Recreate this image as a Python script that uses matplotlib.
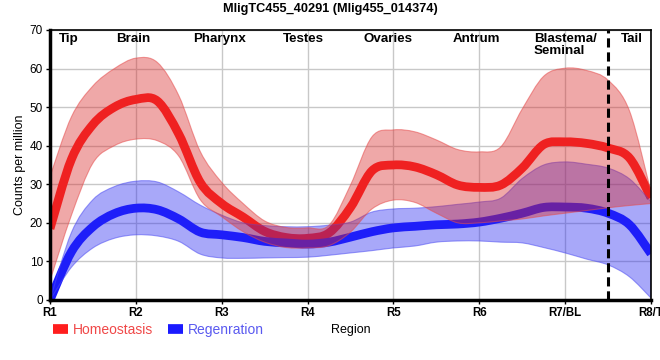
import matplotlib
matplotlib.use("Agg")
import matplotlib.pyplot as plt
from matplotlib.lines import Line2D
from matplotlib.path import Path
from matplotlib.patches import PathPatch
import numpy as np

plt.rcParams['font.family'] = ['Liberation Sans', 'DejaVu Sans']

# ---- data (positions in region units: R1=0 ... R8/T=7, sampled every 0.25) ----
regions = ["R1", "R2", "R3", "R4", "R5", "R6", "R7/BL", "R8/T"]
pos = [i * 0.25 for i in range(29)]

homeo_mid = [18.5, 36.5, 45.5, 50, 52, 51.6, 43, 30.5, 25, 21.5, 17.8, 16.2, 16, 17.4, 24,
             33.5, 35, 34.5, 32.5, 29.8, 29.2, 29.8, 34.2, 40.3, 41, 40.6, 39.4, 36.8, 26.5]
homeo_hi = [32, 47.5, 55.5, 60, 62.7, 61.6, 53, 38.5, 30.5, 25, 20.5, 18.8, 18.7, 19.4, 29.8,
            42.3, 44.1, 43.6, 41.5, 39, 38.4, 39.7, 49.5, 58, 60.1, 59.5, 57, 49, 28]
homeo_lo = [5, 22, 35.5, 40, 41.7, 41.3, 37.3, 26, 21.6, 17.7, 15, 13.6, 13.5, 14.1, 17.6,
            23.6, 25.9, 25.3, 22.5, 20, 20, 20.5, 21, 21.8, 22.5, 23.2, 23.9, 24.5, 25]

regen_mid = [0, 12.5, 19, 22.4, 23.8, 23.4, 21, 17.6, 16.9, 16.2, 15.2, 14.8, 14.5, 15, 16.3,
             17.7, 18.7, 19.1, 19.5, 19.7, 20.2, 21.2, 22.5, 24, 24.1, 23.8, 22.5, 19.5, 12]
regen_hi = [0, 17.5, 26, 29.4, 30.8, 30.6, 28, 24.6, 22, 20, 19.3, 19, 19, 19.4, 20.2,
            22.8, 23.6, 23.8, 24.2, 24.8, 25.4, 26.4, 31.5, 35, 35.8, 35.2, 34.2, 31.4, 25.5]
regen_lo = [0, 8.5, 13.5, 16, 16.9, 16.6, 15.2, 11.9, 10.9, 10.8, 10.9, 11, 11.1, 11.6, 12.2,
            12.8, 13.5, 14, 15, 15.3, 15.3, 15, 14.8, 13.6, 12.2, 10.6, 9.1, 6, 0.5]

tissue_labels = ["Tip", "Brain", "Pharynx", "Testes", "Ovaries", "Antrum", "Blastema/\nSeminal", "Tail"]
tissue_pos = [0.22, 0.97, 1.98, 2.95, 3.94, 4.97, 6.0, 6.78]
boundary = 6.5

series_names = ["Homeostasis", "Regenration"]


def bezier_path(xs, ys):
    """Smooth (Catmull-Rom style) cubic Bezier path through the given points."""
    P = np.column_stack([np.asarray(xs, float), np.asarray(ys, float)])
    n = len(P)
    verts = [P[0]]
    codes = [Path.MOVETO]
    for i in range(n - 1):
        p0 = P[i - 1] if i > 0 else P[i]
        p3 = P[i + 2] if i + 2 < n else P[i + 1]
        c1 = P[i] + (P[i + 1] - p0) / 6.0
        c2 = P[i + 1] - (p3 - P[i]) / 6.0
        verts += [c1, c2, P[i + 1]]
        codes += [Path.CURVE4] * 3
    return verts, codes


def draw_line(ax, xs, ys, color, lw, z):
    v, c = bezier_path(xs, ys)
    ax.add_patch(PathPatch(Path(v, c), fill=False, edgecolor=color, lw=lw,
                           capstyle='butt', joinstyle='round', zorder=z))


def draw_band(ax, xs, lo, hi, face, edge, z):
    vu, cu = bezier_path(xs, hi)
    vl, cl = bezier_path(xs[::-1], lo[::-1])
    cl = list(cl)
    cl[0] = Path.LINETO
    verts = vu + vl + [vu[0]]
    codes = cu + cl + [Path.CLOSEPOLY]
    ax.add_patch(PathPatch(Path(verts, codes), facecolor=face, edgecolor=edge,
                           lw=0.8, zorder=z))


# ---- figure ----
W, H = 660, 360
fig = plt.figure(figsize=(6.6, 3.6), dpi=100)
ax = fig.add_axes([50 / W, 1 - 300 / H, 601 / W, 270 / H])

red_line = '#ff1e1e'
blue_line = '#1a1aff'

draw_line(ax, pos, homeo_mid, red_line, 6.3, 3)
draw_line(ax, pos, regen_mid, blue_line, 6.3, 3)
draw_band(ax, pos, regen_lo, regen_hi, (0.15, 0.15, 0.95, 0.4), (0.3, 0.3, 0.95, 0.55), 4)
draw_band(ax, pos, homeo_lo, homeo_hi, (0.85, 0.15, 0.15, 0.4), (0.9, 0.3, 0.3, 0.55), 5)

ax.axvline(boundary, color='black', lw=2.2, ls=(0, (3, 1.6)), zorder=6)

ax.set_xlim(0, 7)
ax.set_ylim(0, 70)
ax.set_xticks(range(len(regions)))
ax.set_xticklabels(regions, fontweight='bold', fontsize=8.3)
ax.set_yticks(range(0, 71, 10))
ax.tick_params(axis='y', labelsize=8.5, length=3, width=1, pad=2)
ax.tick_params(axis='x', length=3, width=1, pad=2)
ax.grid(True, color='#c8c8c8', lw=1, zorder=0)
ax.set_axisbelow(True)

for s in ['left', 'bottom']:
    ax.spines[s].set_linewidth(2.5)
for s in ['top', 'right']:
    ax.spines[s].set_linewidth(1.2)
for s in ax.spines.values():
    s.set_zorder(7)

for lab, p in zip(tissue_labels, tissue_pos):
    ax.annotate(lab, xy=(p, 1), xycoords=('data', 'axes fraction'), xytext=(0, -2),
                textcoords='offset points', ha='center', va='top', fontsize=9.6,
                fontweight='bold', multialignment='left', linespacing=1.0, zorder=8)

fig.text(330 / W, 1 - 9 / H, "MligTC455_40291 (Mlig455_014374)", ha='center', va='center',
         fontsize=9.2, fontweight='bold')
fig.text(20 / W, 1 - 165 / H, "Counts per million", rotation=90, ha='center', va='center', fontsize=9)
fig.text(351 / W, 1 - 330 / H, "Region", ha='center', va='center', fontsize=9)

handles = [Line2D([], [], color=red_line, lw=7, solid_capstyle='butt'),
           Line2D([], [], color=blue_line, lw=7, solid_capstyle='butt')]
leg = fig.legend(handles, series_names, loc='center left', bbox_to_anchor=(53 / W, 1 - 330 / H),
                 ncol=2, frameon=False, fontsize=10, handlelength=1.1, handletextpad=0.3,
                 columnspacing=1.1, borderpad=0, borderaxespad=0,
                 labelcolor=['#f04848', '#5a5af0'])

fig.savefig("out.png", dpi=100)
